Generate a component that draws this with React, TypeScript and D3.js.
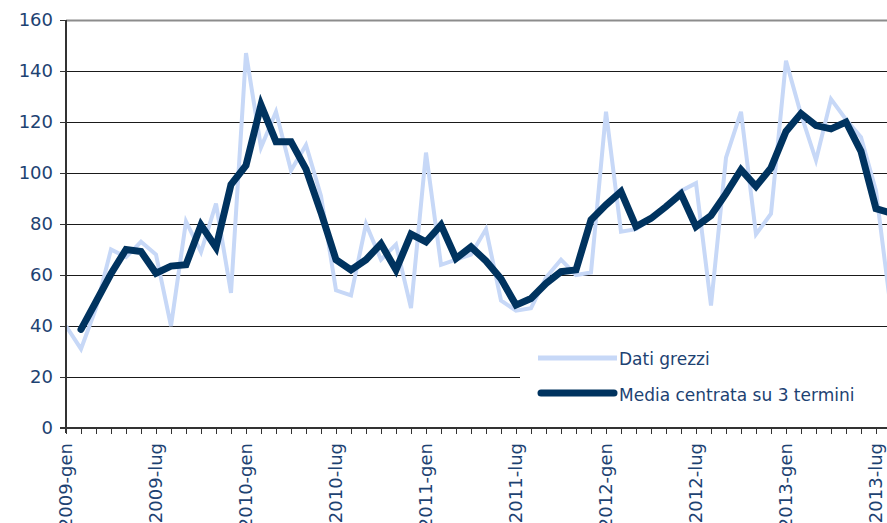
import * as d3 from 'd3';

const monthNames = ['gen', 'feb', 'mar', 'apr', 'mag', 'giu', 'lug', 'ago', 'set', 'ott', 'nov', 'dic'];
const years = [2009, 2010, 2011, 2012, 2013];

// dati grezzi, mensili da 2009-gen
const rawValues = [
  40, 31, 47, 70, 67, 73, 68, 40, 81, 69, 88, 53,
  147, 110, 124, 101, 111, 91, 54, 52, 80, 66, 72, 47,
  108, 64, 66, 68, 78, 50, 46, 47, 59, 66, 60, 61,
  124, 77, 78, 82, 87, 93, 96, 48, 106, 124, 76, 84,
  144, 123, 105, 129, 121, 114, 93, 46,
];

// media mobile centrata (3 termini)
const avgValues: (number | null)[] = [
  null, 38.7, 49.5, 60.5, 70, 69.2, 60.7, 63.5, 64, 79.6, 70.8, 95.5,
  103, 126.7, 112.3, 112.3, 101.5, 84.5, 66, 62, 66, 72.2, 62, 76,
  73, 79.6, 66.5, 71, 65.5, 58.5, 48.2, 50.8, 56.7, 61.3, 62, 81.6,
  87.5, 92.7, 79, 82.2, 86.8, 91.8, 79, 83.3, 91.9, 101.3, 94.8, 102,
  116.3, 123.3, 118.6, 117.3, 120, 108.5, 86, 84.3,
];

const yTicks = [0, 20, 40, 60, 80, 100, 120, 140, 160];
const tickLabels = ['2009-gen', '2009-lug', '2010-gen', '2010-lug', '2011-gen', '2011-lug', '2012-gen', '2012-lug', '2013-gen', '2013-lug'];

const categories = years.flatMap(y => monthNames.map(m => `${y}-${m}`)).slice(0, rawValues.length);

const W = 887;
const H = 523;
const left = 66;
const top = 20;
const bottom = 428;
const step = 15;

const textColor = '#1d4272';
const darkBlue = '#00335f';
const lightBlue = '#c7d8f7';
const font = '"DejaVu Sans", Verdana, sans-serif';

export default function App() {
  const x = d3.scalePoint<string>()
    .domain(categories)
    .range([left, left + step * (categories.length - 1)]);

  const y = d3.scaleLinear().domain([0, 160]).range([bottom, top]);

  const rawLine = d3.line<number>()
    .x((_, i) => x(categories[i])!)
    .y(d => y(d));

  const avgLine = d3.line<number | null>()
    .defined(d => d != null)
    .x((_, i) => x(categories[i])!)
    .y(d => y(d as number));

  // legend box covers part of the lower grid
  const legX = 520;

  return (
    <svg width={W} height={H} style={{ position: 'absolute', left: 0, top: 0, background: '#fff' }}
      fontFamily={font}>
      {/* grid */}
      {yTicks.filter(t => t > 0).map(t => (
        <line key={t} x1={left} x2={W} y1={Math.round(y(t)) + 0.5} y2={Math.round(y(t)) + 0.5}
          stroke={t === 160 ? '#8c8c8c' : '#1a1a1a'} strokeWidth={t === 160 ? 2 : 1} />
      ))}

      {/* series */}
      <path d={rawLine(rawValues) || ''} fill="none" stroke={lightBlue} strokeWidth={4} strokeLinejoin="miter" />
      <path d={avgLine(avgValues) || ''} fill="none" stroke={darkBlue} strokeWidth={7} strokeLinejoin="miter" strokeLinecap="round" />

      {/* legend */}
      <rect x={legX} y={338} width={W - legX} height={78} fill="#fff" />
      <line x1={538} x2={617} y1={358} y2={358} stroke={lightBlue} strokeWidth={5} />
      <text x={619} y={365} fontSize={17} fill={textColor}>Dati grezzi</text>
      <line x1={541} x2={614} y1={393} y2={393} stroke={darkBlue} strokeWidth={7} strokeLinecap="round" />
      <text x={619} y={401} fontSize={17} fill={textColor}>Media centrata su 3 termini</text>

      {/* y axis */}
      <line x1={left} x2={left} y1={top} y2={bottom + 5} stroke="#333" strokeWidth={2} />
      {yTicks.map(t => (
        <g key={t}>
          <line x1={left - 6} x2={left} y1={Math.round(y(t)) + 0.5} y2={Math.round(y(t)) + 0.5} stroke="#333" strokeWidth={1} />
          <text x={53} y={y(t)} dy="0.36em" textAnchor="end" fontSize={18} fill={textColor}>{t}</text>
        </g>
      ))}

      {/* x axis */}
      <line x1={left - 6} x2={W} y1={bottom} y2={bottom} stroke="#333" strokeWidth={2} />
      {categories.map(c => (
        <line key={c} x1={x(c)! + 0.5} x2={x(c)! + 0.5} y1={bottom} y2={bottom + 6} stroke="#333" strokeWidth={1} />
      ))}
      {tickLabels.map(l => (
        <text key={l} transform={`translate(${x(l)! + 6},443) rotate(-90)`} textAnchor="end"
          fontSize={18} fill={textColor}>{l}</text>
      ))}
    </svg>
  );
}
